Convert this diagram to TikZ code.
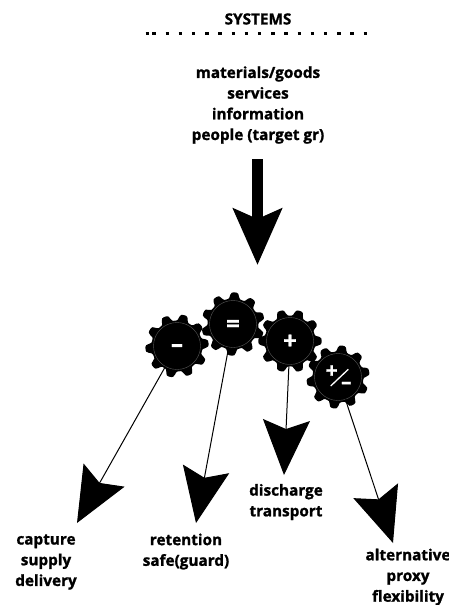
\documentclass[tikz,border=0pt]{standalone}
\usepackage{fontspec}
\setmainfont[BoldFeatures={FakeBold=1.2}]{Open Sans}
\usetikzlibrary{arrows.meta}
\tikzset{>=latex}
\tikzset{
  label/.style={font=\bfseries\fontsize{15.3}{20.7}\selectfont, align=center, inner sep=0pt},
  hub/.style={circle, draw=gray!70!black, line width=0.4pt, fill=black, text=white, minimum size=47pt, inner sep=0pt, font=\bfseries\fontsize{24}{24}\selectfont},
  sign/.style={text=white, inner sep=0pt, font=\bfseries\fontsize{21}{21}\selectfont},
  link/.style={-{Stealth[length=55pt,width=47pt,inset=9pt]}, line width=1pt}
}
% cog wheel behind a hub node
\newcommand{\cog}[4]{
  \fill[shift={(#2)}, rotate=#4] plot[domain=0:358, samples=120, smooth cycle] (\x:{28.5+3.2*tanh(2.2*cos(10*\x))});
  \node[hub] (#1) at (#2) {#3};
}
% glyph with its middle moved onto the baseline
\newcommand{\midglyph}[2]{\smash{\raisebox{#1}{#2}}}
\begin{document}
\begin{tikzpicture}[x=1pt, y=-1pt]
  \useasboundingbox (0,0) rectangle (449,605);
  \node[label] (title) at (258,19) {SYSTEMS};
  \coordinate (dots0) at (145.5,33.5);
  \coordinate (dots1) at (149,33.5);
  \coordinate (dots2) at (152.3,33.5);
  \coordinate (dots3) at (368,33.5);
  \draw[line width=3.5pt] (dots0) -- (dots1);
  \draw[line width=3.5pt, dash pattern=on 3.5pt off 9.7pt] (dots2) -- (dots3);
  \node[label] (flows) at (258,105) {materials/goods\\services\\information\\people (target gr)};
  \coordinate (down0) at (257.5,159);
  \coordinate (down1) at (257.5,265);
  \draw[-{Stealth[length=56pt,width=48pt,inset=10pt]}, line width=11pt] (down0) -- (down1);
  \cog{minus}{177,346}{\midglyph{-6pt}{--}}{5}
  \cog{equal}{233,324}{\midglyph{-8pt}{=}}{15}
  \cog{plus}{290,341}{\midglyph{-8pt}{+}}{0}
  \cog{plusminus}{338,377}{}{10}
  \node[sign] (pmplus) at (331.7,371.7) {+};
  \node[sign] (pmminus) at (346.3,382.7) {\midglyph{-6pt}{--}};
  \coordinate (slash0) at (330.7,386);
  \coordinate (slash1) at (348.3,369.3);
  \draw[white, line width=1.3pt] (slash0) -- (slash1);
  \node[label] (capture) at (46,562) {capture\\supply\\delivery};
  \node[label] (retention) at (186,551.5) {retention\\safe(guard)};
  \node[label] (discharge) at (286,502) {discharge\\transport};
  \node[label] (alternative) at (408,577) {alternative\\proxy\\flexibility};
  \coordinate (tip1) at (77,523);
  \coordinate (tip2) at (196,523);
  \coordinate (tip3) at (284,475);
  \coordinate (tip4) at (393,543);
  \draw[link] (minus) -- (tip1);
  \draw[link] (equal) -- (tip2);
  \draw[link] (plus) -- (tip3);
  \draw[link] (plusminus) -- (tip4);
\end{tikzpicture}
\end{document}
